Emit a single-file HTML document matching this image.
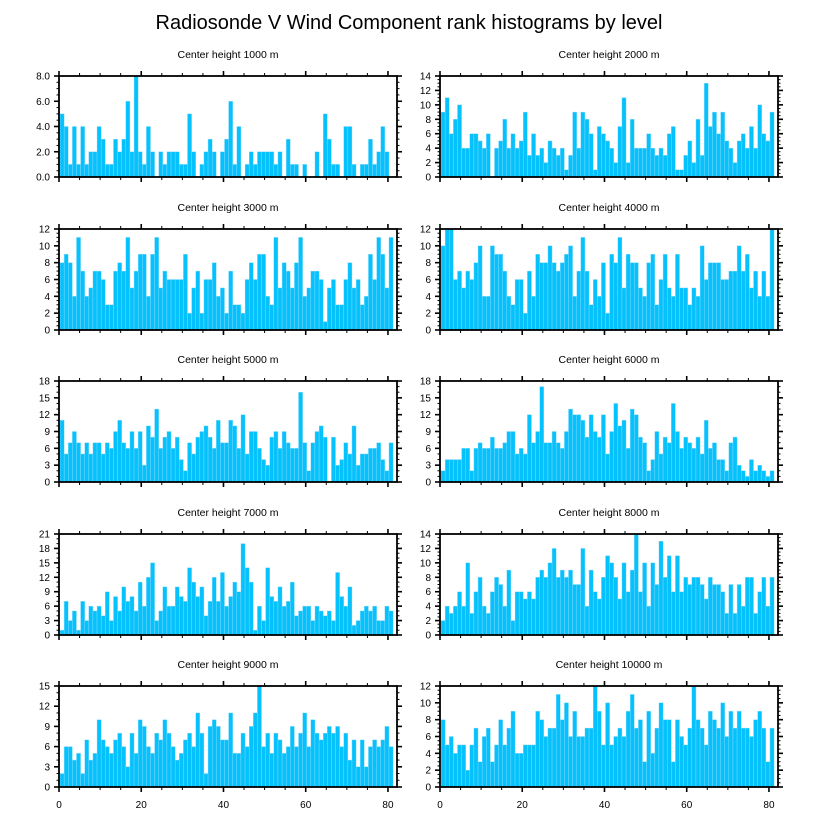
<!DOCTYPE html>
<html><head><meta charset="utf-8"><style>
html,body{margin:0;padding:0;background:#fff;}
svg{display:block;font-family:"Liberation Sans",sans-serif;}
</style></head><body>
<svg id="chart" width="818" height="824" viewBox="0 0 818 824" xmlns="http://www.w3.org/2000/svg">
<text x="409" y="29" text-anchor="middle" font-size="20" fill="#000">Radiosonde V Wind Component rank histograms by level</text>
</svg>
<script>
const panelTitles = ["Center height 1000 m","Center height 2000 m","Center height 3000 m","Center height 4000 m","Center height 5000 m","Center height 6000 m","Center height 7000 m","Center height 8000 m","Center height 9000 m","Center height 10000 m"];
const yMaxes = [8,14,12,12,18,18,21,14,15,12];
const yStep = [2,2,2,2,3,3,3,2,3,2];
const xTickLabels = [0,20,40,60,80];
const counts1000 = [5,4,1,4,1,4,1,2,2,4,3,1,1,3,2,3,6,2,8,2,1,4,2,0,2,1,2,2,2,1,1,5,2,0,1,2,3,2,0,2,3,6,1,4,0,1,2,1,2,2,2,2,1,2,0,3,1,1,0,1,0,0,2,0,5,3,1,1,0,4,4,1,0,1,1,3,1,2,4,2,0];
const counts2000 = [9,11,6,8,10,4,4,6,6,5,4,6,0,4,5,8,4,6,4,5,9,3,6,3,4,2,5,4,3,4,1,3,9,4,9,8,6,1,7,6,5,4,2,7,11,2,8,4,4,4,6,4,3,4,3,6,7,1,1,3,5,2,8,3,13,7,9,6,9,5,4,2,5,6,4,7,4,10,6,5,9];
const counts3000 = [8,9,8,4,11,7,4,5,7,7,6,3,3,7,8,7,11,5,7,9,9,4,9,11,5,7,6,6,6,6,9,2,5,7,2,6,6,8,4,5,2,7,3,3,2,6,8,6,9,9,4,3,11,5,8,7,5,8,11,4,5,7,7,6,1,5,6,3,3,6,8,5,6,3,4,9,6,11,9,5,11];
const counts4000 = [10,12,12,6,7,5,7,6,8,10,4,4,10,9,9,7,4,3,6,6,2,7,4,9,8,8,10,8,7,8,9,10,4,7,11,7,3,6,4,8,2,9,8,11,5,9,8,8,5,4,8,9,3,6,9,5,4,9,5,5,3,5,4,10,6,8,8,8,6,6,7,7,10,7,9,5,7,4,7,4,12];
const counts5000 = [11,5,7,9,7,5,7,5,7,7,5,7,6,9,11,7,6,9,6,9,3,10,8,13,6,8,9,6,8,4,2,7,5,8,9,10,8,6,11,7,7,11,10,6,12,5,9,9,6,4,3,8,9,6,9,7,6,6,16,7,2,7,9,10,8,0,8,3,4,7,5,10,3,5,5,6,6,7,4,2,7];
const counts6000 = [2,4,4,4,4,6,6,2,6,7,6,6,8,6,6,7,9,9,5,6,5,12,7,9,17,7,7,9,7,6,9,13,12,12,11,8,12,9,8,12,5,9,14,10,11,6,13,12,8,7,2,4,9,5,8,7,14,9,6,8,7,6,8,5,11,6,7,4,4,2,7,8,3,2,1,4,2,3,2,1,2];
const counts7000 = [1,7,3,5,1,7,3,6,5,6,4,9,3,8,5,10,7,8,5,11,6,12,15,3,5,10,6,6,10,8,7,14,11,8,10,4,7,12,7,13,6,8,11,9,19,14,11,1,6,3,14,8,7,10,6,7,11,4,5,6,6,3,6,5,4,5,3,13,8,6,10,2,3,5,6,5,6,3,3,6,5];
const counts8000 = [2,4,3,4,6,4,10,3,6,8,4,3,6,8,7,4,9,2,6,6,5,6,5,8,9,8,10,12,8,9,8,9,7,7,12,4,9,6,5,8,11,10,8,5,10,6,9,14,6,10,4,10,7,13,8,11,6,11,6,8,7,8,8,7,5,8,7,7,6,3,7,3,7,4,8,8,3,6,8,4,8];
const counts9000 = [2,6,6,4,5,2,7,4,5,10,7,6,5,7,8,6,3,8,5,10,9,6,5,8,7,10,8,6,4,5,7,8,6,11,8,2,9,10,9,7,7,11,5,5,8,6,9,11,15,6,8,5,8,7,5,6,9,6,8,11,6,10,8,7,8,9,8,9,6,8,4,7,3,7,3,6,7,6,7,9,6];
const counts10000 = [8,5,6,4,5,5,2,5,7,3,6,7,3,5,8,5,7,9,4,4,5,5,5,9,8,6,7,7,11,8,10,6,9,6,6,7,7,12,9,5,10,5,6,7,6,9,11,7,8,3,9,4,7,10,8,8,3,8,6,5,7,12,8,7,5,9,8,7,10,6,9,7,9,7,7,6,8,9,7,3,7];
const allCounts = [counts1000,counts2000,counts3000,counts4000,counts5000,counts6000,counts7000,counts8000,counts9000,counts10000];

const NS = "http://www.w3.org/2000/svg";
const svg = document.getElementById("chart");
function mk(tag, attrs, parent){const e=document.createElementNS(NS,tag);for(const k in attrs)e.setAttribute(k,attrs[k]);(parent||svg).appendChild(e);return e;}

const colX = [59,440], W = 338, H = 101, rowY = [76,229,381,534,686], XMAX = 82.2;
allCounts.forEach((data, p) => {
  const x0 = colX[p%2], y0 = rowY[Math.floor(p/2)];
  const g = mk("g", {});
  
  
  const xs = v => x0 + v / XMAX * W;
  const ys = v => y0 + H - v / yMaxes[p] * H;
  const t = mk("text", {x: x0 + W/2, y: y0 - 18, "text-anchor":"middle", "font-size":"10.5", fill:"#000"}, g);
  t.textContent = panelTitles[p];
  
  
  data.forEach((v, i) => {
    const r = mk("rect", {x: xs(i+0.25), y: ys(v), width: xs(i+1.25)-xs(i+0.25), height: ys(0)-ys(v), fill:"#05c1fc", stroke:"#8fdcff", "stroke-width":"0.4"}, g);
    
    
  });
  // x ticks
  for (let v = 0; v <= 80; v += 5) {
    const major = v % 20 === 0, L = major ? 5 : 3, x = xs(v);
    mk("line", {x1:x, x2:x, y1:y0+H, y2:y0+H+L, stroke:"#000", "stroke-width": major?1.6:1}, g);
    mk("line", {x1:x, x2:x, y1:y0, y2:y0-L, stroke:"#000", "stroke-width": major?1.6:1}, g);
  }
  const isBottom = p >= 8;
  if (isBottom) xTickLabels.forEach(v => {
    const tl = mk("text", {x: xs(v), y: y0+H+21, "text-anchor":"middle", "font-size":"10", fill:"#000"}, g);
    tl.textContent = v;
    
    
  });
  // y ticks
  const st = yStep[p], sub = st === 2 ? 4 : 3, minor = st / sub;
  for (let k = 0; k * minor <= yMaxes[p] + 1e-9; k++) {
    const v = k * minor, major = k % sub === 0, L = major ? 5 : 2.5, y = ys(v);
    mk("line", {x1:x0, x2:x0-L, y1:y, y2:y, stroke:"#000", "stroke-width": major?1.6:1}, g);
    mk("line", {x1:x0+W, x2:x0+W+L, y1:y, y2:y, stroke:"#000", "stroke-width": major?1.6:1}, g);
    if (major) {
      const tl = mk("text", {x: x0-9, y: y+3.5, "text-anchor":"end", "font-size":"10", fill:"#000"}, g);
      tl.textContent = p === 0 ? v.toFixed(1) : v;
      
      
    }
  }
  const f = mk("rect", {x:x0, y:y0, width:W, height:H, fill:"none", stroke:"#000", "stroke-width":"1.8"}, g);
  
  
});
</script>
</body></html>
